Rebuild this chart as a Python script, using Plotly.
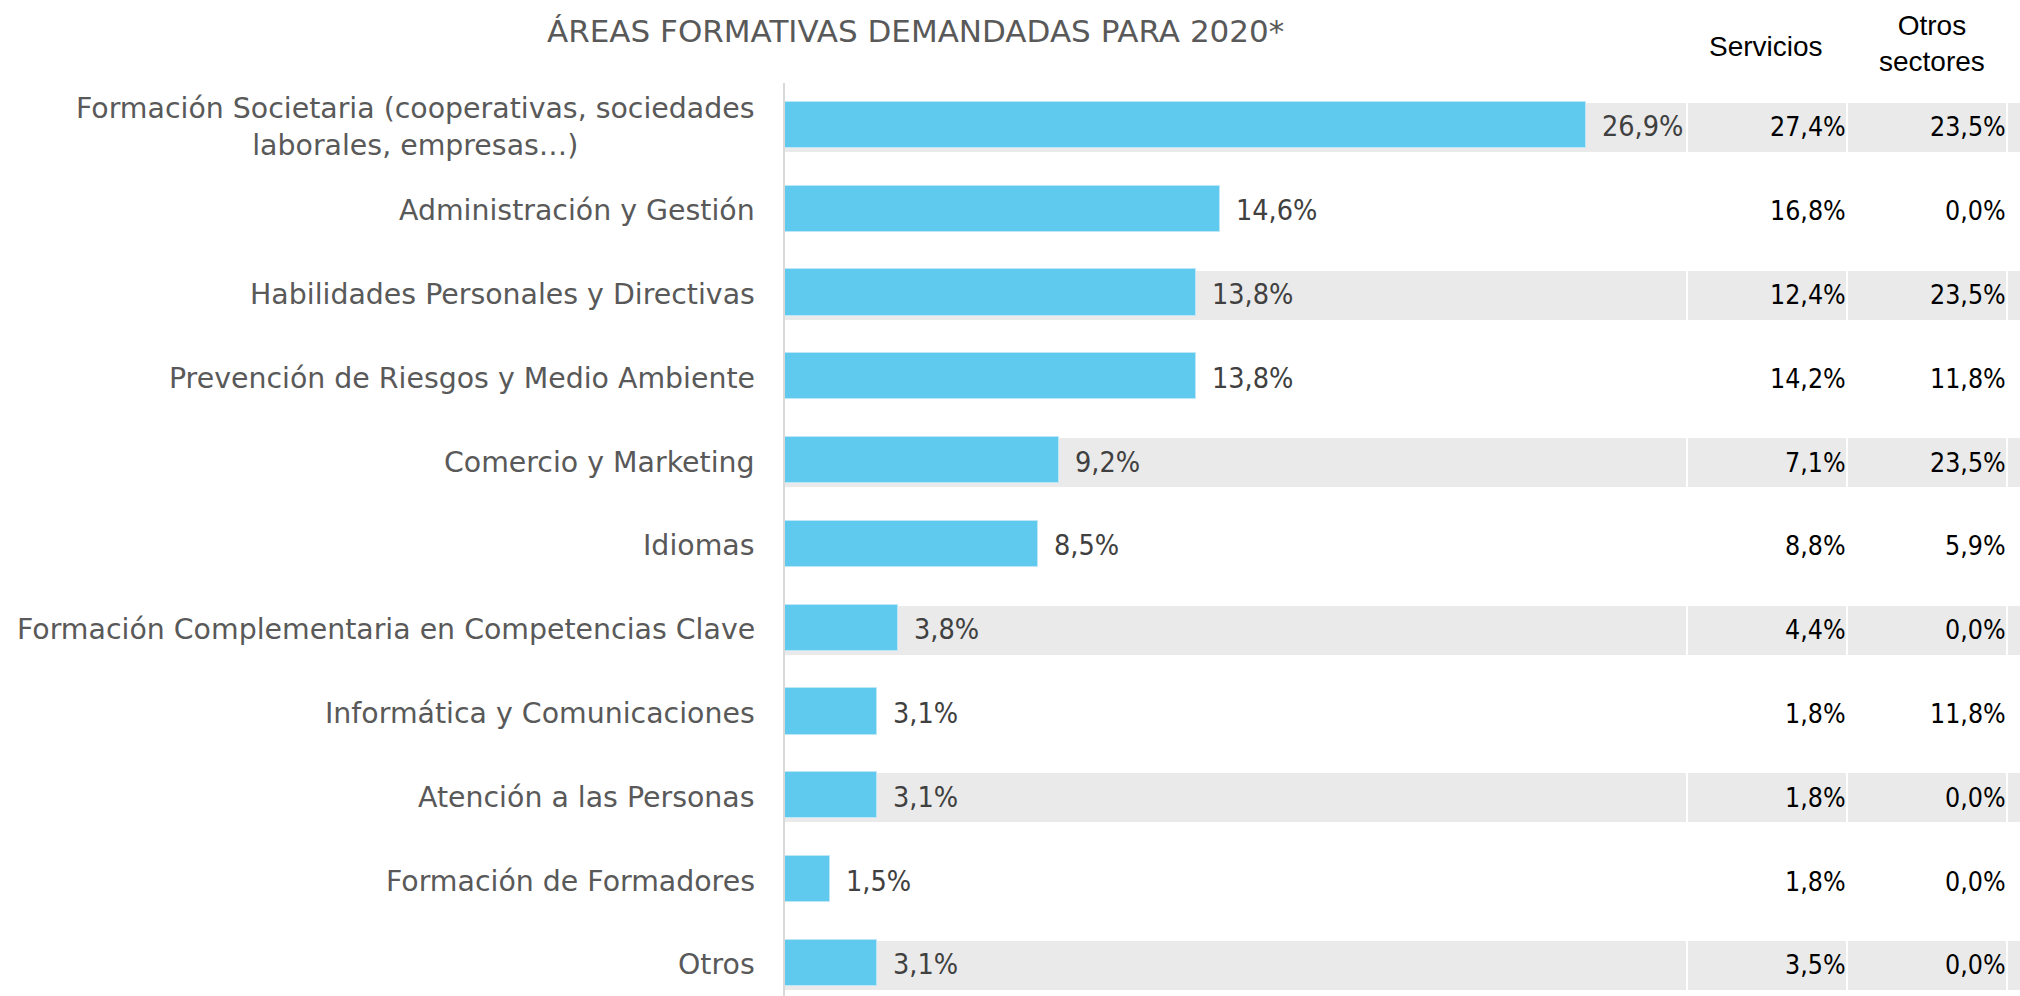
import plotly.graph_objects as go

# Training areas requested for 2020 (share of demand, %)
categories = [
    "Formación Societaria (cooperativas, sociedades<br>laborales, empresas…)",
    "Administración y Gestión",
    "Habilidades Personales y Directivas",
    "Prevención de Riesgos y Medio Ambiente",
    "Comercio y Marketing",
    "Idiomas",
    "Formación Complementaria en Competencias Clave",
    "Informática y Comunicaciones",
    "Atención a las Personas",
    "Formación de Formadores",
    "Otros",
]
total = [26.9, 14.6, 13.8, 13.8, 9.2, 8.5, 3.8, 3.1, 3.1, 1.5, 3.1]
servicios = [27.4, 16.8, 12.4, 14.2, 7.1, 8.8, 4.4, 1.8, 1.8, 1.8, 3.5]
otros_sectores = [23.5, 0.0, 23.5, 11.8, 23.5, 5.9, 0.0, 11.8, 0.0, 0.0, 0.0]

title = "ÁREAS FORMATIVAS DEMANDADAS PARA 2020*"
col_headers = ["Servicios", "Otros<br>sectores"]

W, H = 2020, 996
X_MAX = 30.25          # main value axis extent
BAR_BLUE = "#5FCAEE"
BAND_GREY = "#EAEAEA"
LABEL_GREY = "#595959"
VALUE_GREY = "#404040"
CONDENSED = "DejaVu Sans Condensed, DejaVu Sans, sans-serif"
SANS = "DejaVu Sans, Verdana, sans-serif"
HEADER = "Liberation Sans, Arial, sans-serif"


def pct(v):
    return f"{v:.1f}".replace(".", ",") + "%"


rows = list(range(len(categories)))
band_rows = rows[::2]

fig = go.Figure()

# alternating grey bands across the chart and the two side columns
band_w = 0.585
band_off = -band_w / 2 + 0.03
for xa, ext in (("x", X_MAX), ("x2", 1), ("x3", 1), ("x4", 1)):
    fig.add_trace(go.Bar(
        y=band_rows, x=[ext] * len(band_rows), orientation="h",
        xaxis=xa, yaxis="y", width=band_w, offset=band_off,
        marker=dict(color=BAND_GREY, line=dict(width=0)),
        hoverinfo="skip", showlegend=False,
    ))

# main bars
fig.add_trace(go.Bar(
    y=rows, x=total, orientation="h", xaxis="x", yaxis="y",
    width=0.55,
    marker=dict(color=BAR_BLUE, line=dict(color="#BDE7F6", width=1)),
    hoverinfo="skip", showlegend=False,
))

annotations = []

# category labels
for r, name in zip(rows, categories):
    annotations.append(dict(
        xref="paper", yref="y", x=757 / W, y=r, xanchor="right", yanchor="middle",
        yshift=-2, text=name, showarrow=False, align="center",
        font=dict(family=SANS, size=28.4, color=LABEL_GREY),
    ))

# value labels next to the bars
for r, v in zip(rows, total):
    annotations.append(dict(
        xref="x", yref="y", x=v, y=r, xanchor="left", yanchor="middle",
        xshift=14, yshift=-2, text=pct(v), showarrow=False,
        font=dict(family=CONDENSED, size=28.5, color=VALUE_GREY),
    ))

# side columns
for xa, vals, shift in (("x2", servicios, 2), ("x3", otros_sectores, 2)):
    for r, v in zip(rows, vals):
        annotations.append(dict(
            xref=xa, yref="y", x=1, y=r, xanchor="right", yanchor="middle",
            xshift=shift, yshift=-2, text=pct(v), showarrow=False,
            font=dict(family=CONDENSED, size=26.5, color="#000000"),
        ))

# column headers
annotations.append(dict(
    xref="paper", yref="paper", x=1766 / W, y=1 - 46 / H, xanchor="center", yanchor="middle",
    text=col_headers[0], showarrow=False,
    font=dict(family=HEADER, size=28, color="#000000"),
))
annotations.append(dict(
    xref="paper", yref="paper", x=1932 / W, y=1 - 44 / H, xanchor="center", yanchor="middle",
    text=col_headers[1], showarrow=False, align="center",
    font=dict(family=HEADER, size=28, color="#000000"),
))

# title
annotations.append(dict(
    xref="paper", yref="paper", x=915 / W, y=1 - 31 / H, xanchor="center", yanchor="middle",
    text=title, showarrow=False,
    font=dict(family=SANS, size=31, color=LABEL_GREY),
))

hidden = dict(showgrid=False, zeroline=False, showticklabels=False, ticks="", showline=False)

fig.update_layout(
    width=W, height=H,
    margin=dict(l=0, r=0, t=0, b=0),
    paper_bgcolor="white", plot_bgcolor="rgba(0,0,0,0)",
    barmode="overlay", bargap=0,
    showlegend=False,
    xaxis=dict(domain=[785 / W, 1686 / W], range=[0, X_MAX], anchor="y", fixedrange=True, **hidden),
    xaxis2=dict(domain=[1688 / W, 1846 / W], range=[0, 1], anchor="y", fixedrange=True, **hidden),
    xaxis3=dict(domain=[1848 / W, 2006 / W], range=[0, 1], anchor="y", fixedrange=True, **hidden),
    xaxis4=dict(domain=[2008 / W, 1], range=[0, 1], anchor="y", fixedrange=True, **hidden),
    yaxis=dict(
        domain=[0, 1 - 83 / H], range=[10.395, -0.5], anchor="x",
        showgrid=False, zeroline=False, showticklabels=False, ticks="",
        showline=True, linecolor="#D9D9D9", linewidth=2, fixedrange=True,
    ),
    annotations=annotations,
)

fig.write_html("out.html")
